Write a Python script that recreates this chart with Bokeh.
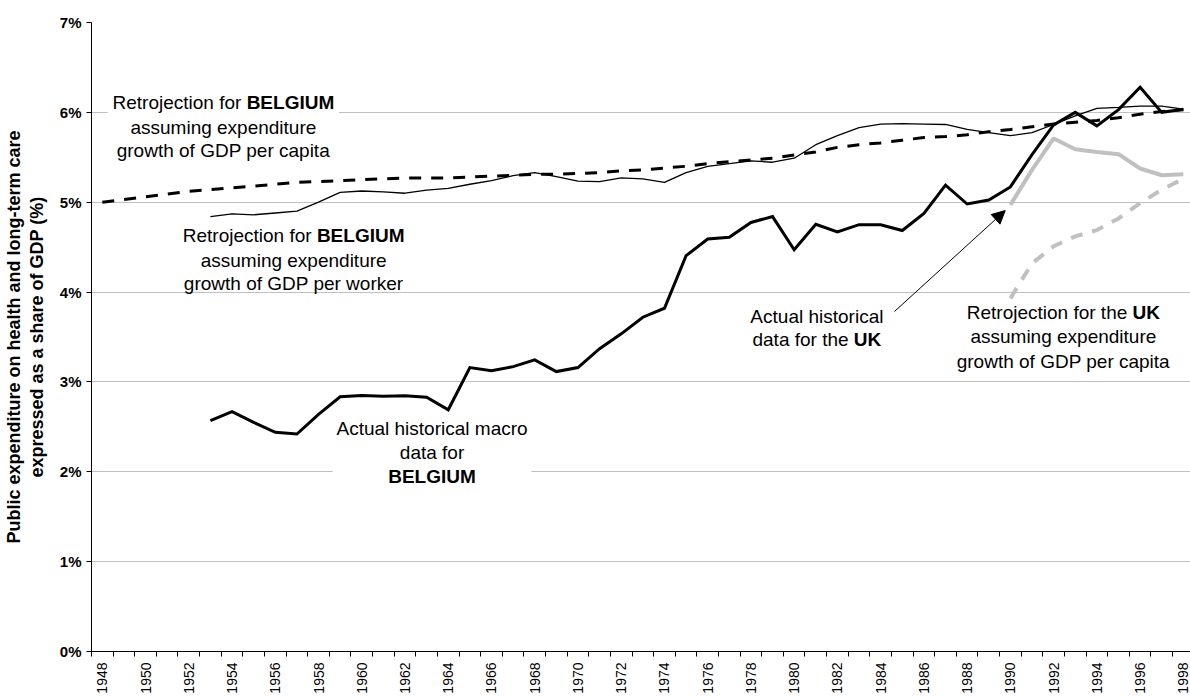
import math
from bokeh.plotting import figure
from bokeh.models import (Range1d, FixedTicker, Label, Arrow, NormalHead,
                          BoxAnnotation, PrintfTickFormatter, LinearAxis)
from bokeh.embed import file_html
from bokeh.resources import INLINE

# ---------------- data ----------------
years = list(range(1948, 1999))
be_capita = [5.00, 5.03, 5.06, 5.09, 5.12, 5.14, 5.16, 5.18, 5.20, 5.22,
             5.23, 5.24, 5.25, 5.26, 5.27, 5.27, 5.27, 5.28, 5.29, 5.30,
             5.31, 5.31, 5.32, 5.33, 5.35, 5.36, 5.38, 5.40, 5.43, 5.45,
             5.47, 5.49, 5.525, 5.56, 5.61, 5.64, 5.66, 5.69, 5.72, 5.73,
             5.75, 5.785, 5.81, 5.84, 5.87, 5.89, 5.91, 5.94, 5.98, 6.01,
             6.03]

be_years = list(range(1953, 1999))
be_worker = [4.84, 4.87, 4.86, 4.88, 4.90, 5.00, 5.11, 5.125, 5.115, 5.10,
             5.135, 5.155, 5.20, 5.24, 5.295, 5.33, 5.285, 5.235, 5.23, 5.27,
             5.26, 5.22, 5.33, 5.40, 5.43, 5.46, 5.445, 5.49, 5.64, 5.74,
             5.83, 5.87, 5.875, 5.87, 5.865, 5.81, 5.775, 5.74, 5.775, 5.865,
             5.96, 6.045, 6.055, 6.07, 6.07, 6.035]
be_actual = [2.57, 2.67, 2.55, 2.44, 2.42, 2.64, 2.835, 2.85, 2.84, 2.845,
             2.83, 2.69, 3.16, 3.125, 3.17, 3.245, 3.115, 3.16, 3.37, 3.535,
             3.72, 3.82, 4.405, 4.59, 4.61, 4.775, 4.84, 4.47, 4.755, 4.67,
             4.75, 4.75, 4.685, 4.875, 5.19, 4.98, 5.025, 5.17, 5.53, 5.86,
             6.00, 5.85, 6.03, 6.28, 6.00, 6.035]

uk_years = list(range(1990, 1999))
uk_actual = [4.97, 5.36, 5.71, 5.59, 5.56, 5.535, 5.375, 5.30, 5.31]
uk_retro = [3.93, 4.32, 4.51, 4.62, 4.69, 4.82, 4.99, 5.14, 5.26]

y_ticks = [0, 1, 2, 3, 4, 5, 6, 7]
x_label_years = list(range(1948, 1999, 2))

y_title_1 = "Public expenditure on health and long-term care"
y_title_2 = "expressed as a share of GDP (%)"

# ---------------- styles ----------------
FONT = "Liberation Sans"
ANN_FS = 19
GRID = "#c0c0c0"
UKGRAY = "#c0c0c0"
X0, X1 = 1947.5, 1998.33
FRAME_W = 1190 - 89

# Arial / Liberation Sans advance widths (em/1000) for mixed-weight lines
W_REG = {" ": 278, "R": 722, "e": 556, "t": 278, "r": 333, "o": 556, "j": 222,
         "c": 500, "i": 222, "n": 556, "f": 278, "h": 556, "d": 556, "a": 556}
W_BOLD = {"B": 722, "E": 667, "L": 611, "G": 778, "I": 278, "U": 722,
          "M": 833, "K": 722, " ": 278}


def tw(s, table, fs):
    return sum(table[ch] for ch in s) / 1000.0 * fs


p = figure(width=1190, height=696, output_backend="svg", toolbar_location=None,
           x_range=Range1d(X0, X1), y_range=Range1d(0, 7),
           min_border_left=89, min_border_right=0, min_border_top=22,
           min_border_bottom=44)
p.outline_line_color = None
p.background_fill_color = "white"
p.border_fill_color = "white"

# x axis: labels at even-year centres, tick marks between categories
xa = p.xaxis[0]
xa.ticker = FixedTicker(ticks=x_label_years,
                        minor_ticks=[y - 0.5 for y in years] + [1998.5])
xa.major_tick_out = 0
xa.major_tick_in = 0
xa.minor_tick_out = 5
xa.minor_tick_in = 0
xa.minor_tick_line_color = "black"
xa.axis_line_color = "black"
xa.major_label_orientation = math.pi / 2
xa.major_label_standoff = 6
xa.major_label_text_font = FONT
xa.major_label_text_font_size = "14px"
xa.major_label_text_color = "black"

ya = p.yaxis[0]
ya.ticker = FixedTicker(ticks=y_ticks, minor_ticks=[])
ya.formatter = PrintfTickFormatter(format="%d%%")
ya.major_tick_out = 5
ya.major_tick_in = 0
ya.major_tick_line_color = "black"
ya.axis_line_color = "black"
ya.major_label_standoff = 5
ya.major_label_text_font = FONT
ya.major_label_text_font_size = "15px"
ya.major_label_text_font_style = "bold"
ya.major_label_text_color = "black"
ya.axis_label = y_title_2
ya.axis_label_text_font = FONT
ya.axis_label_text_font_size = "18px"
ya.axis_label_text_font_style = "bold"
ya.axis_label_text_color = "black"
ya.axis_label_standoff = 10

# outer axis that only carries the first line of the y title
ya2 = LinearAxis(axis_label=y_title_1, ticker=FixedTicker(ticks=[]),
                 axis_line_color=None, major_tick_line_color=None,
                 minor_tick_line_color=None, major_tick_out=0, major_tick_in=0,
                 minor_tick_out=0, minor_tick_in=0, major_label_standoff=0,
                 major_label_text_font_size="0px", axis_label_standoff=0,
                 axis_label_text_font=FONT, axis_label_text_font_size="18px",
                 axis_label_text_font_style="bold",
                 axis_label_text_color="black")
p.add_layout(ya2, "left")

p.xgrid.visible = False
p.ygrid.ticker = FixedTicker(ticks=y_ticks)
p.ygrid.grid_line_color = GRID
p.ygrid.grid_line_width = 1

# ---------------- series ----------------
p.line(uk_years, uk_retro, line_color=UKGRAY, line_width=4, line_dash="12 10")
p.line(uk_years, uk_actual, line_color=UKGRAY, line_width=4)
p.line(years, be_capita, line_color="black", line_width=3, line_dash="12 10")
p.line(be_years, be_worker, line_color="black", line_width=1.3)
p.line(be_years, be_actual, line_color="black", line_width=3, line_join="miter")

# ---------------- annotations ----------------
PX_PER_YEAR = FRAME_W / (X1 - X0)

# white text boxes that hide the gridlines behind two of the notes
w1 = tw("Retrojection for", W_REG, ANN_FS) + tw(" BELGIUM", W_BOLD, ANN_FS)
half1 = (w1 / 2 + 5) / PX_PER_YEAR
p.add_layout(BoxAnnotation(left=1953.6 - half1, right=1953.6 + half1,
                           bottom=5.45, top=6.25, fill_color="white",
                           fill_alpha=1, line_color=None))
w3 = 10.058 * ANN_FS
half3 = (w3 / 2 + 4) / PX_PER_YEAR
p.add_layout(BoxAnnotation(left=1963.25 - half3, right=1963.25 + half3,
                           bottom=1.83, top=2.58, fill_color="white",
                           fill_alpha=1, line_color=None))


def plain(x, y, text, bold=False, align="center", xoff=0):
    p.add_layout(Label(x=x, y=y, text=text, x_offset=xoff,
                       text_font=FONT, text_font_size=f"{ANN_FS}px",
                       text_font_style="bold" if bold else "normal",
                       text_align=align, text_baseline="middle",
                       text_color="black"))


def mixed(x, y, reg, bold):
    wr = tw(reg, W_REG, ANN_FS)
    ws = W_REG[" "] / 1000.0 * ANN_FS
    wb = tw(bold, W_BOLD, ANN_FS)
    left = -(wr + ws + wb) / 2
    plain(x, y, reg, align="left", xoff=left)
    plain(x, y, bold, bold=True, align="left", xoff=left + wr + ws)


# Belgium, GDP per capita retrojection
mixed(1953.6, 6.107, "Retrojection for", "BELGIUM")
plain(1953.6, 5.829, "assuming expenditure")
plain(1953.6, 5.57, "growth of GDP per capita")

# Belgium, GDP per worker retrojection
mixed(1956.85, 4.626, "Retrojection for", "BELGIUM")
plain(1956.85, 4.351, "assuming expenditure")
plain(1956.85, 4.092, "growth of GDP per worker")

# Belgium actual
plain(1963.25, 2.478, "Actual historical macro")
plain(1963.25, 2.211, "data for")
plain(1963.25, 1.951, "BELGIUM", bold=True)

# UK actual
plain(1981.05, 3.729, "Actual historical")
mixed(1981.05, 3.47, "data for the", "UK")
p.add_layout(Arrow(end=NormalHead(size=13, fill_color="black",
                                  line_color="black"),
                   x_start=1984.64, y_start=3.784, x_end=1989.76, y_end=4.907,
                   line_color="black", line_width=1))

# UK retrojection
mixed(1992.45, 3.773, "Retrojection for the", "UK")
plain(1992.45, 3.507, "assuming expenditure")
plain(1992.45, 3.229, "growth of GDP per capita")

open("out.html", "w").write(file_html(p, INLINE))
